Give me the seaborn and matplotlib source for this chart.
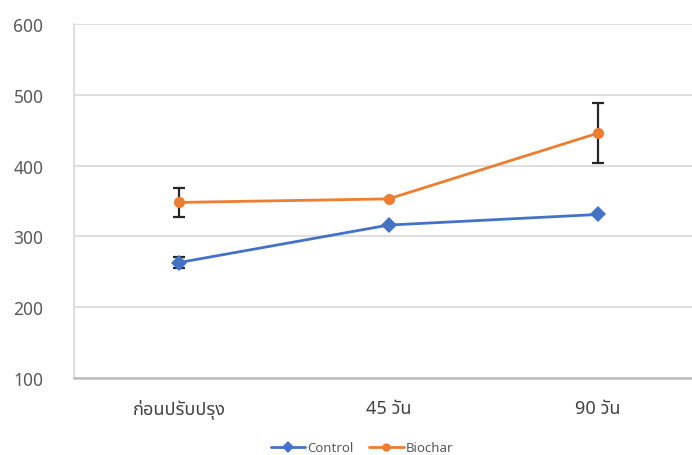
import matplotlib
matplotlib.use("Agg")
import matplotlib.pyplot as plt
import seaborn as sns
import pandas as pd

# data
stages = ["ก่อนปรับปรุง", "45 วัน", "90 วัน"]
control = [263, 316, 331]
control_err = [8, 0, 0]
biochar = [348, 353, 446]
biochar_err = [21, 0, 43]

BLUE = "#4472C4"
ORANGE = "#ED7D31"

df = pd.DataFrame({
    "stage": stages * 2,
    "value": control + biochar,
    "group": ["Control"] * 3 + ["Biochar"] * 3,
})

sns.set_style("white")
plt.rcParams["font.family"] = ["Noto Sans", "Noto Sans Thai", "DejaVu Sans"]

fig = plt.figure(figsize=(6.92, 4.56), dpi=100)
ax = fig.add_axes([0.107, 0.169, 0.909, 0.776])

sns.lineplot(data=df, x="stage", y="value", hue="group", style="group",
             palette={"Control": BLUE, "Biochar": ORANGE},
             markers={"Control": "D", "Biochar": "o"}, dashes=False,
             markersize=8, linewidth=2, markeredgewidth=0, sort=False, ax=ax)

x = list(range(len(stages)))
ax.errorbar(x, control, yerr=control_err, fmt="none", ecolor="#262626",
            elinewidth=1.6, capsize=4, capthick=1.6, zorder=1)
ax.errorbar(x, biochar, yerr=biochar_err, fmt="none", ecolor="#262626",
            elinewidth=1.6, capsize=4, capthick=1.6, zorder=1)

ax.set_xlim(-0.5, 2.5)
ax.set_ylim(100, 600)
ax.set_yticks([100, 200, 300, 400, 500, 600])
ax.set_xlabel("")
ax.set_ylabel("")
ax.grid(axis="y", color="#D9D9D9", linewidth=1.2)
ax.set_axisbelow(True)
for s in ["top", "right"]:
    ax.spines[s].set_visible(False)
ax.spines["left"].set_color("#D9D9D9")
ax.spines["left"].set_linewidth(1.2)
ax.spines["bottom"].set_color("#BFBFBF")
ax.spines["bottom"].set_linewidth(1.8)
ax.tick_params(axis="y", length=0, pad=22, labelsize=12.5, labelcolor="#595959")
ax.tick_params(axis="x", length=0, pad=15, labelsize=13, labelcolor="#404040")

ax.legend_.remove()
h, l = ax.get_legend_handles_labels()
fig.legend(h, l, loc="center", bbox_to_anchor=(0.523, 0.016), ncol=2,
           frameon=False, fontsize=9.5, handlelength=2.6, handletextpad=0.15,
           columnspacing=1.2, markerscale=0.75, labelcolor="#595959")

fig.savefig("out.png", dpi=100)
